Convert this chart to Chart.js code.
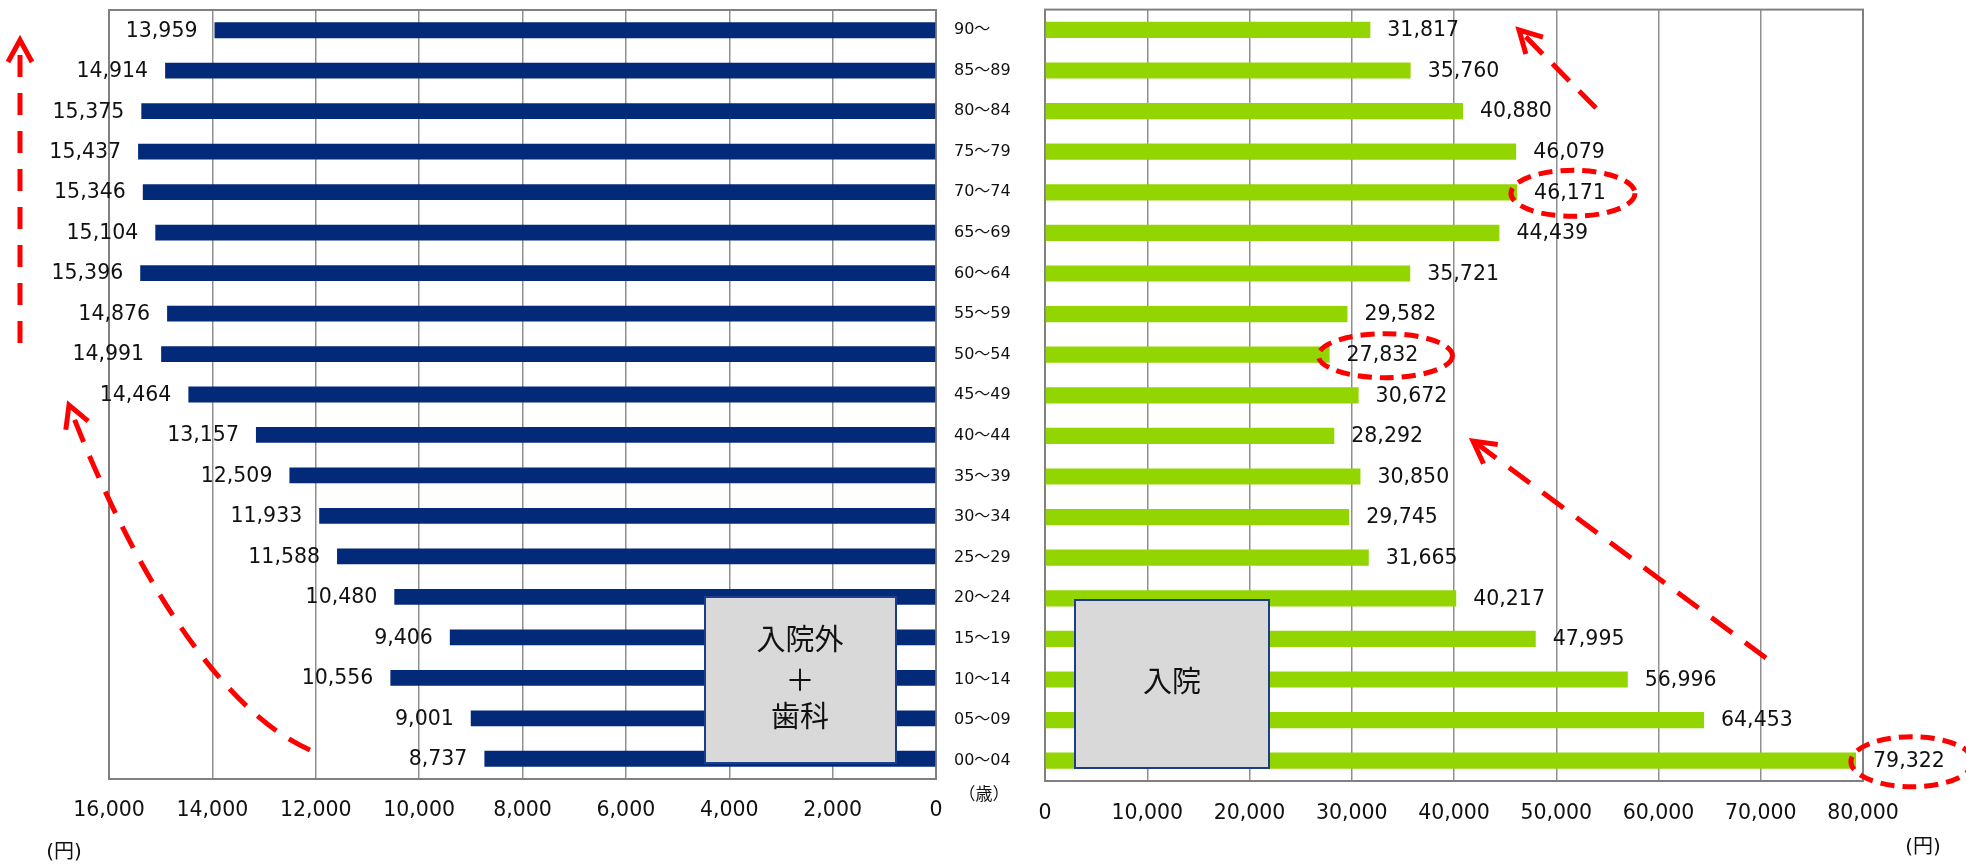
<!DOCTYPE html>
<html><head><meta charset="utf-8">
<script src="https://cdn.jsdelivr.net/npm/chart.js@4"></script>
<style>
html,body{margin:0;padding:0;background:#fff;width:1966px;height:866px;overflow:hidden}
.wrap{position:absolute;left:0;top:0;width:1966px;height:866px}
</style></head><body>
<div class="wrap"><canvas id="c1"></canvas></div>
<div class="wrap"><canvas id="c2"></canvas></div>
<script>
// ---- data ----
const ageGroups = ['90～','85～89','80～84','75～79','70～74','65～69','60～64','55～59','50～54','45～49','40～44','35～39','30～34','25～29','20～24','15～19','10～14','05～09','00～04'];
const outpatientDental = [13959,14914,15375,15437,15346,15104,15396,14876,14991,14464,13157,12509,11933,11588,10480,9406,10556,9001,8737];
const inpatient = [31817,35760,40880,46079,46171,44439,35721,29582,27832,30672,28292,30850,29745,31665,40217,47995,56996,64453,79322];
const leftTickValues = [0,2000,4000,6000,8000,10000,12000,14000,16000];
const rightTickValues = [0,10000,20000,30000,40000,50000,60000,70000,80000];
const highlightIndex = [4,8,18];

const FONT = '"DejaVu Sans","Noto Sans CJK JP",sans-serif';
const CJK = '"Noto Sans CJK JP","DejaVu Sans",sans-serif';
const NAVY = '#022a78';
const GREEN = '#93d500';
const GRID = '#8f8f8f';
const RED = '#ff0000';

const fmt = v => Number(v).toLocaleString('en-US');

// frame around plot area
const framePlugin = {
  id:'frame',
  beforeDatasetsDraw(chart){
    const {ctx, chartArea:a} = chart;
    ctx.save();
    ctx.strokeStyle = '#808080';
    ctx.lineWidth = 2;
    ctx.strokeRect(a.left, a.top, a.right-a.left, a.bottom-a.top);
    ctx.restore();
  }
};

// value labels
const labelPlugin = {
  id:'valueLabels',
  afterDatasetsDraw(chart, args, opts){
    const ctx = chart.ctx;
    const meta = chart.getDatasetMeta(0);
    const data = chart.data.datasets[0].data;
    ctx.save();
    ctx.font = '20.5px ' + FONT;
    ctx.fillStyle = '#111';
    ctx.textBaseline = 'middle';
    meta.data.forEach((el,i)=>{
      const t = fmt(data[i]);
      if (opts.side === 'left') { ctx.textAlign='right'; ctx.fillText(t, el.x-17, el.y+1); }
      else { ctx.textAlign='left'; ctx.fillText(t, el.x+17, el.y+1); }
    });
    ctx.restore();
  }
};

function drawBox(ctx, x, y, w, h, lines, lineYs, cx){
  ctx.save();
  ctx.fillStyle = '#d9d9d9';
  ctx.fillRect(x,y,w,h);
  ctx.strokeStyle = '#1c3c8c';
  ctx.lineWidth = 2;
  ctx.strokeRect(x,y,w,h);
  ctx.fillStyle = '#111';
  ctx.font = '29px ' + CJK;
  ctx.textAlign = 'center';
  ctx.textBaseline = 'middle';
  lines.forEach((l,i)=>ctx.fillText(l, cx, lineYs[i]));
  ctx.restore();
}

function redStyle(ctx, dash, off){
  ctx.strokeStyle = RED;
  ctx.lineWidth = 5;
  ctx.lineCap = 'butt';
  ctx.setLineDash(dash||[]);
  ctx.lineDashOffset = off||0;
}
function arrowHead(ctx, tx, ty, dx, dy, len, ang){
  const L = Math.hypot(dx,dy); const ux = dx/L, uy = dy/L;
  const bx = -ux, by = -uy;
  const c = Math.cos(ang), s = Math.sin(ang);
  const a1x = tx + len*(bx*c - by*s), a1y = ty + len*(bx*s + by*c);
  const a2x = tx + len*(bx*c + by*s), a2y = ty + len*(-bx*s + by*c);
  ctx.save();
  redStyle(ctx);
  ctx.lineJoin = 'miter';
  ctx.beginPath();
  ctx.moveTo(a1x,a1y); ctx.lineTo(tx,ty); ctx.lineTo(a2x,a2y);
  ctx.stroke();
  ctx.restore();
}

const leftDecor = {
  id:'leftDecor',
  afterDatasetsDraw(chart){
    const ctx = chart.ctx;
    drawBox(ctx, 705, 597, 191, 166, ['入院外','＋','歯科'], [639,680,716], 800);
    ctx.save();
    redStyle(ctx, [22,16], 23);
    ctx.beginPath(); ctx.moveTo(20,40); ctx.lineTo(20,343); ctx.stroke();
    ctx.restore();
    arrowHead(ctx, 20, 40, 0, -1, 25, 0.5);
    ctx.save();
    redStyle(ctx, [24,15], 0);
    ctx.beginPath();
    ctx.moveTo(310,750);
    ctx.bezierCurveTo(240,720,150,615,70,408);
    ctx.stroke();
    ctx.restore();
    arrowHead(ctx, 69, 405, -80, -205, 25, 0.5);
  }
};

const rightDecor = {
  id:'rightDecor',
  afterDatasetsDraw(chart){
    const ctx = chart.ctx;
    drawBox(ctx, 1075, 600, 194, 168, ['入院'], [681], 1172);
  },
  afterDraw(chart){
    const ctx = chart.ctx;
    const meta = chart.getDatasetMeta(0);
    const data = chart.data.datasets[0].data;
    ctx.save();
    ctx.font = '20.5px ' + FONT;
    const sizes = {4:[62,23], 8:[67,22], 18:[61,25]};
    highlightIndex.forEach(i=>{
      const el = meta.data[i];
      const w = ctx.measureText(fmt(data[i])).width;
      const cx = el.x + 17 + w/2 + 3;
      const cy = el.y + 1;
      const [rx,ry] = sizes[i] || [63,23];
      redStyle(ctx, [14,8], 0);
      ctx.beginPath();
      ctx.ellipse(cx, cy, rx, ry, 0, 0, Math.PI*2);
      ctx.stroke();
    });
    ctx.restore();
    ctx.save();
    redStyle(ctx, [26,16], 0);
    ctx.beginPath(); ctx.moveTo(1766,658); ctx.lineTo(1476,443); ctx.stroke();
    ctx.restore();
    arrowHead(ctx, 1473, 441, -293, -217, 25, 0.5);
    ctx.save();
    redStyle(ctx, [24,14], 0);
    ctx.beginPath(); ctx.moveTo(1596,108); ctx.lineTo(1522,33); ctx.stroke();
    ctx.restore();
    arrowHead(ctx, 1519, 30, -77, -78, 25, 0.5);
    ctx.save();
    ctx.fillStyle = '#111';
    ctx.textAlign = 'center';
    ctx.textBaseline = 'middle';
    ctx.font = '20px ' + FONT;
    ctx.fillText('(円)', 64, 853);
    ctx.fillText('(円)', 1923, 848);
    ctx.font = '17px ' + CJK;
    ctx.fillText('（歳）', 984, 794);
    ctx.restore();
  }
};

const common = {
  indexAxis:'y', responsive:true, maintainAspectRatio:false, animation:false,
  events:[],
};

new Chart(document.getElementById('c1'), {
  type:'bar',
  data:{labels:ageGroups, datasets:[{data:outpatientDental, backgroundColor:NAVY, borderWidth:0, barPercentage:0.39, categoryPercentage:1}]},
  options:Object.assign({}, common, {
    layout:{padding:{left:109,right:1030,top:10,bottom:0}},
    plugins:{legend:{display:false}, tooltip:{enabled:false}, valueLabels:{side:'left'}},
    scales:{
      x:{type:'linear', reverse:true, min:0, max:16000,
        afterBuildTicks(s){ s.ticks = leftTickValues.map(v=>({value:v})); },
        afterFit(s){ s.height = 87; },
        grid:{color:GRID, lineWidth:1.5, drawTicks:false},
        border:{display:false},
        ticks:{font:{size:20.5, family:FONT}, color:'#111', padding:19, maxRotation:0, autoSkip:false, callback:v=>fmt(v)}},
      y:{display:false}
    }
  }),
  plugins:[framePlugin, labelPlugin, leftDecor]
});

new Chart(document.getElementById('c2'), {
  type:'bar',
  data:{labels:ageGroups, datasets:[{data:inpatient, backgroundColor:GREEN, borderWidth:0, barPercentage:0.4, categoryPercentage:1}]},
  options:Object.assign({}, common, {
    layout:{padding:{left:954,right:103,top:4,bottom:0}},
    plugins:{legend:{display:false}, tooltip:{enabled:false}, valueLabels:{side:'right'}},
    scales:{
      x:{type:'linear', min:0, max:80000,
        afterBuildTicks(s){ s.ticks = rightTickValues.map(v=>({value:v})); },
        afterFit(s){ s.height = 85; },
        grid:{color:GRID, lineWidth:1.5, drawTicks:false},
        border:{display:false},
        ticks:{font:{size:20.5, family:FONT}, color:'#111', padding:20, maxRotation:0, autoSkip:false, callback:v=>fmt(v)}},
      y:{position:'left',
        afterFit(s){ s.width = 91; },
        grid:{display:false, drawTicks:false},
        border:{display:false},
        ticks:{font:{size:16, family:FONT}, color:'#111', crossAlign:'far', padding:0, autoSkip:false}}
    }
  }),
  plugins:[framePlugin, labelPlugin, rightDecor]
});
</script>
</body></html>
